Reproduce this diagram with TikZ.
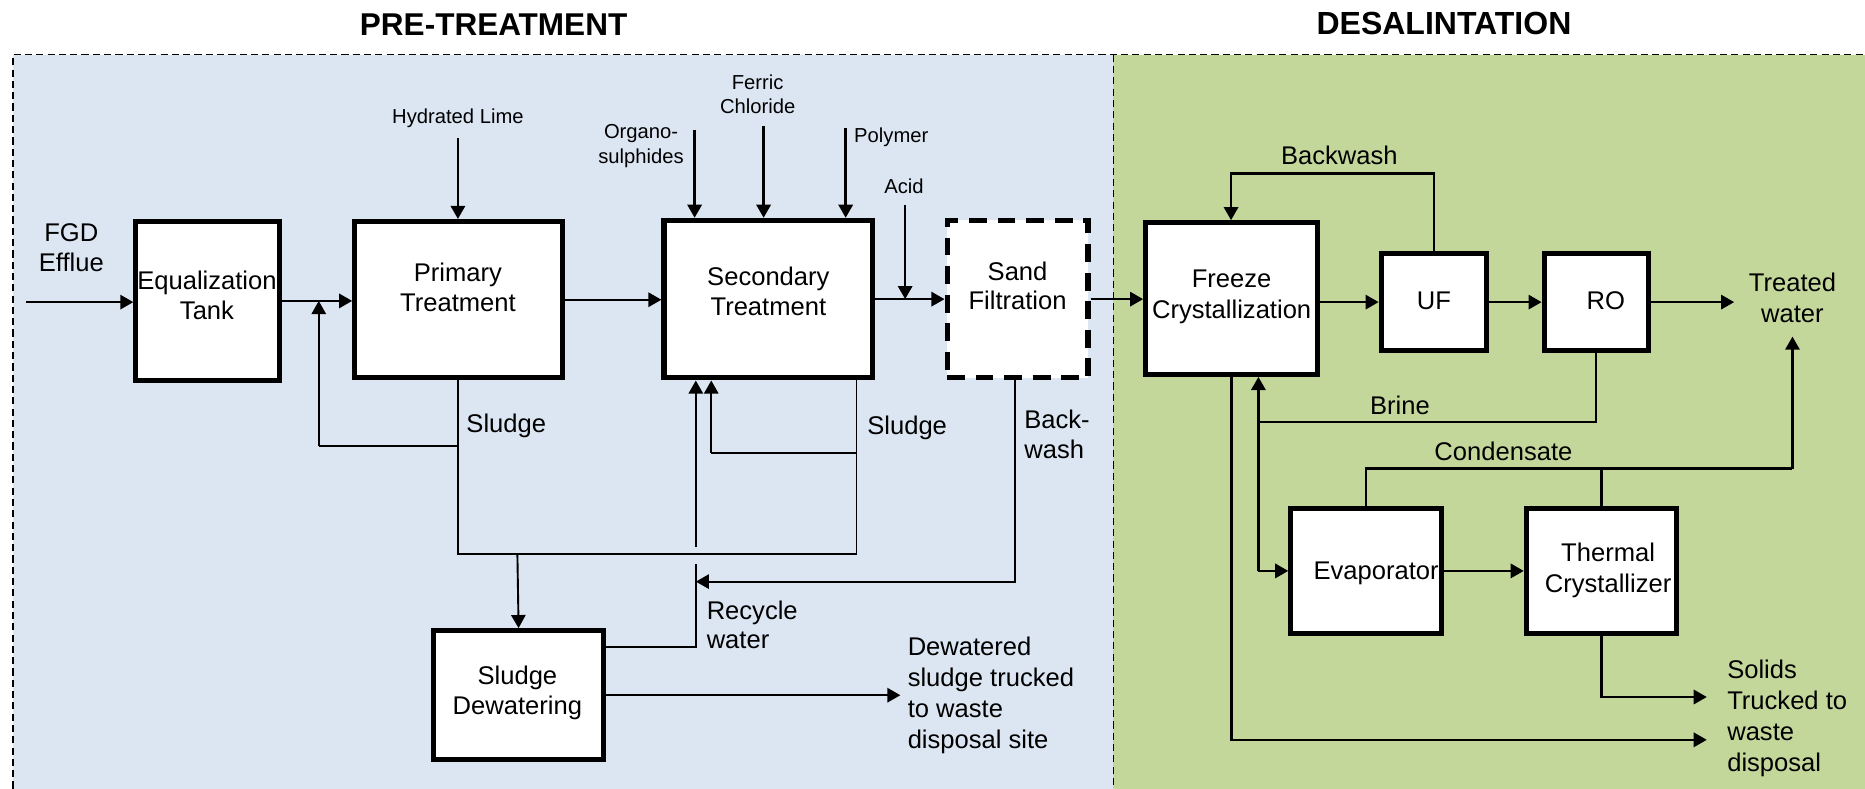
\documentclass[tikz,border=0pt]{standalone}
\usepackage{fontspec}
\setmainfont{Liberation Sans}
\usetikzlibrary{arrows.meta}
\definecolor{pblue}{RGB}{220,230,242}
\definecolor{dgreen}{RGB}{196,215,155}
\begin{document}
\begin{tikzpicture}[x=1pt,y=-1pt,
  box/.style={draw, line width=4.3pt, fill=white, inner sep=0pt},
  dbox/.style={box, dash pattern=on 15pt off 9pt},
  lbl/.style={font=\fontsize{21.5}{25}\selectfont, inner sep=0pt, align=center, execute at begin node=\strut, execute at end node=\strut},
  lblw/.style={font=\fontsize{21.5}{26}\selectfont, inner sep=0pt, align=center, execute at begin node=\strut, execute at end node=\strut},
  chem/.style={font=\fontsize{17}{20.5}\selectfont, inner sep=0pt, align=center, execute at begin node=\strut, execute at end node=\strut},
  flow/.style={line width=2pt, -{Triangle[length=11pt,width=12pt]}},
  plain/.style={line width=2pt},
  sline/.style={line width=1.4pt},
  sflow/.style={line width=1.6pt, -{Triangle[length=11pt,width=12pt]}},
  frame/.style={line width=1pt, dash pattern=on 6pt off 3.5pt},
]
\useasboundingbox (0,0) rectangle (1568,663);
% backgrounds
\fill[pblue] (11,46) rectangle (936,663);
\fill[dgreen] (936,46) rectangle (1568,663);
\draw[frame] (11,663) -- (11,46) -- (1568,46);
\draw[frame] (936,46) -- (936,663);

% titles
\node[font=\bfseries\fontsize{26.5}{30}\selectfont, inner sep=0pt, anchor=base] (t1) at (415,29.5) {PRE-TREATMENT};
\node[font=\bfseries\fontsize{26.9}{30}\selectfont, inner sep=0pt, anchor=base] (t2) at (1214,29) {DESALINTATION};

% boxes
\node[box, minimum width=120.5pt, minimum height=133.5pt] (eq) at (174.5,253) {};
\node[box, minimum width=174.5pt, minimum height=131.5pt] (prim) at (385.5,252) {};
\node[box, minimum width=175.5pt, minimum height=132.5pt] (sec) at (646,251.5) {};
\node[dbox, minimum width=118.5pt, minimum height=132.5pt] (sand) at (855.5,251.5) {};
\node[box, minimum width=144.5pt, minimum height=127.5pt] (freeze) at (1035.5,251) {};
\node[box, minimum width=88.5pt, minimum height=81.5pt] (uf) at (1205.5,254) {};
\node[box, minimum width=87.5pt, minimum height=81.5pt] (ro) at (1342,254) {};
\node[box, minimum width=126.5pt, minimum height=105.5pt] (evap) at (1148.5,480) {};
\node[box, minimum width=126.5pt, minimum height=105.5pt] (therm) at (1346.5,480) {};
\node[box, minimum width=143.5pt, minimum height=108.5pt] (dew) at (436,584.5) {};

% box labels
\node[lbl] (eqT) at (174,252) {Equalization\\Tank};
\node[lbl] (primT) at (385,245.5) {Primary\\Treatment};
\node[lbl] (secT) at (646,248.5) {Secondary\\Treatment};
\node[lbl] (sandT) at (855.5,244) {Sand\\Filtration};
\node[lblw] (frT) at (1035.5,251.5) {Freeze\\Crystallization};
\node[lbl] (ufT) at (1205.5,255) {UF};
\node[lbl] (roT) at (1350,255) {RO};
\node[lbl] (evT) at (1157,482) {Evaporator};
\node[lblw] (thT) at (1352,481.5) {Thermal\\Crystallizer};
\node[lbl] (dwT) at (435,584) {Sludge\\Dewatering};

% flow labels
\node[lbl] (fgd) at (60,212) {FGD\\Efflue};
\node[lbl, anchor=west] (sl1) at (392,358.5) {Sludge};
\node[lbl, anchor=west] (sl2) at (729,360.5) {Sludge};
\node[lbl, anchor=west, align=left] (bwl) at (861,369) {Back-\\wash};
\node[lbl, anchor=west, align=left] (rcl) at (594,529) {Recycle\\water};
\node[lblw, anchor=west, align=left] (dws) at (763,586) {Dewatered\\sludge trucked\\to waste\\disposal site};
\node[lblw, anchor=west, align=left] (sol) at (1452,605.5) {Solids\\Trucked to\\waste\\disposal};
\node[lblw] (tw) at (1507,254.5) {Treated\\water};
\node[lbl] (bwd) at (1126,133.5) {Backwash};
\node[lbl] (brine) at (1177,343.5) {Brine};
\node[lbl] (cond) at (1264,382.5) {Condensate};

% chemical labels
\node[chem] (hl) at (385,100) {Hydrated Lime};
\node[chem] (os) at (539,124) {Organo-\\sulphides};
\node[chem] (fc) at (637,82.5) {Ferric\\Chloride};
\node[chem, anchor=west] (pol) at (718,116) {Polymer};
\node[chem] (acid) at (760,159) {Acid};

% coordinates
\coordinate (fgdA) at (22,254);
\coordinate (hlA) at (385,116);
\coordinate (osA) at (584,109);
\coordinate (fcA) at (642,106);
\coordinate (polA) at (711,108);
\coordinate (acA) at (761,172);
\coordinate (j1) at (385,375);
\coordinate (j2) at (268,375);
\coordinate (j3) at (385,466);
\coordinate (j4) at (720,466);
\coordinate (j5) at (720,381);
\coordinate (j6) at (598,381);
\coordinate (j7) at (435,466);
\coordinate (rwTop) at (585,460);
\coordinate (rwBot) at (585,474);
\coordinate (rwY) at (585,544);
\coordinate (bwJ) at (585,489);
\coordinate (dwOut) at (757,584.5);
\coordinate (twA) at (1458,254);
\coordinate (bwT) at (1035,146);
\coordinate (brR) at (1058,355);
\coordinate (brE) at (1058,480);
\coordinate (cdJ) at (1507,394);
\coordinate (twB) at (1507,283);
\coordinate (wsA) at (1435,622);
\coordinate (soA) at (1435,586);

% main flow
\draw[flow] (fgdA) -- (fgdA -| eq.west);
\draw[flow] (eq.east) -- (eq.east -| prim.west);
\draw[flow] (prim.east) -- (prim.east -| sec.west);
\draw[flow] (sec.east) -- (sec.east -| sand.west);
\draw[flow] (sand.east) -- (sand.east -| freeze.west);
\draw[flow] (freeze.east |- uf.west) -- (uf.west);
\draw[flow] (uf.east) -- (ro.west);
\draw[flow] (ro.east) -- (twA);

% chemicals
\draw[flow] (hlA) -- (hlA |- prim.north);
\draw[flow] (osA) -- (osA |- sec.north);
\draw[flow] (fcA) -- (fcA |- sec.north);
\draw[flow] (polA) -- (polA |- sec.north);
\draw[flow] (acA) -- (acA |- sec.east);

% sludge network
\draw[sline] (prim.south -| j3) -- (j3) -- (j4) -- (j4 |- sec.south);
\draw[sline] (j1) -- (j2);
\draw[sflow, shorten >=1pt] (j2) -- (j2 |- prim.west);
\draw[sline] (j5) -- (j6);
\draw[sflow] (j6) -- (j6 |- sec.south);
\draw[sflow] (rwTop) -- (rwTop |- sec.south);
\draw[sline] (rwY -| dew.east) -- (rwY) -- (rwBot);
\draw[sflow] (sand.south -| 853,0) |- (bwJ);
\draw[sflow] (j7) -- (dew.north);
\draw[flow] (dew.east) -- (dwOut);

% desalination
\draw[flow] (uf.north) |- (bwT) -- (bwT |- freeze.north);
\draw[plain] (ro.south) |- (brR);
\draw[flow] (brE) -- (brE |- freeze.south);
\draw[flow] (brE) -- (evap.west);
\draw[flow] (freeze.south) |- (wsA);
\draw[flow] (evap.east) -- (therm.west);
\draw[plain] (evap.north) |- (cdJ);
\draw[plain] (therm.north) -- (therm.north |- cdJ);
\draw[flow] (cdJ) -- (twB);
\draw[flow] (therm.south) |- (soA);
\end{tikzpicture}
\end{document}
